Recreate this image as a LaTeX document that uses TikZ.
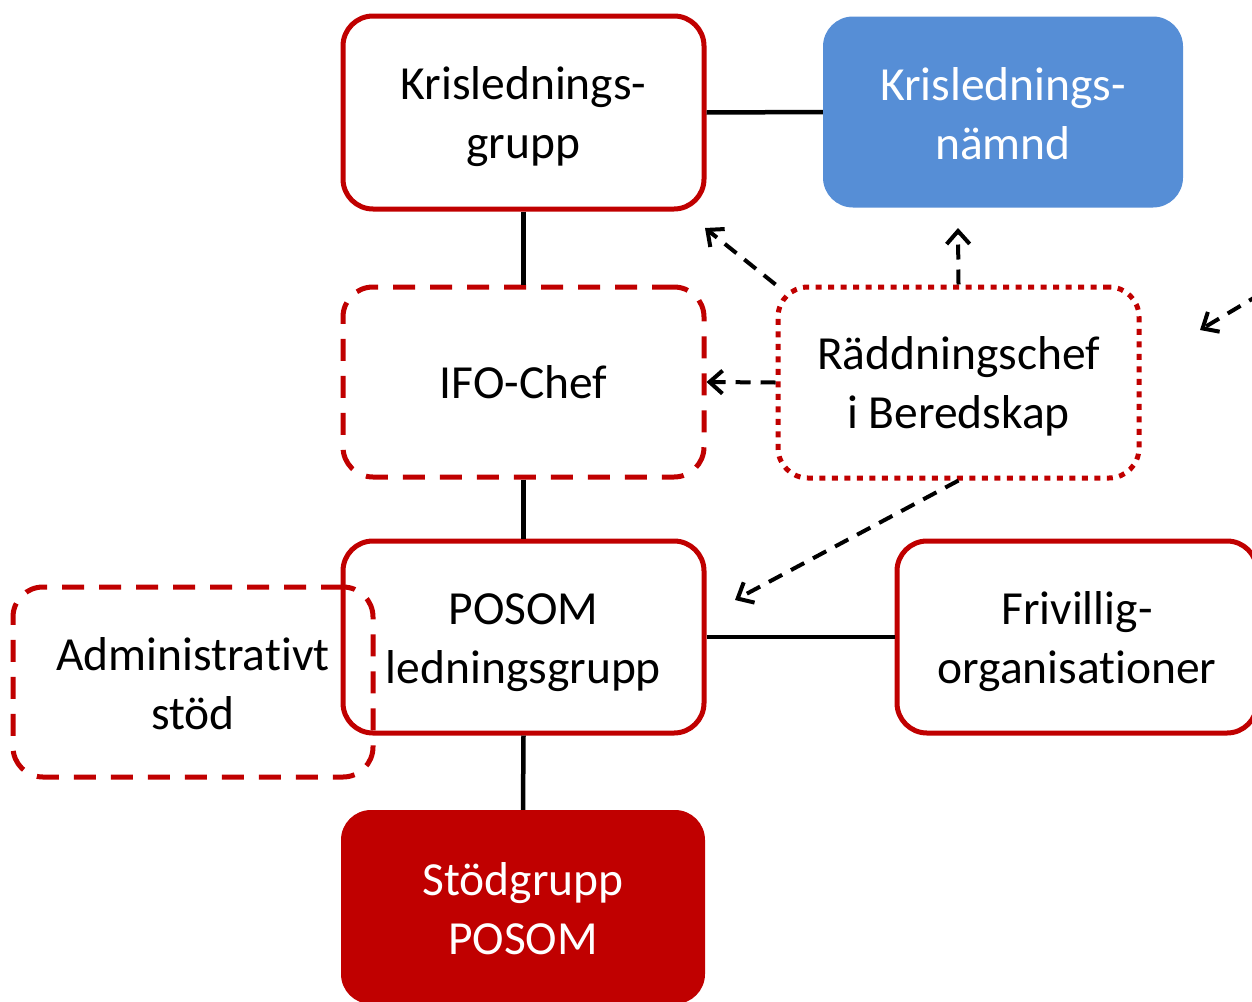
\documentclass[tikz,border=0pt]{standalone}
\usepackage{fontspec}
\setmainfont{Carlito}[Ligatures={NoCommon,NoContextual}]
\usetikzlibrary{arrows.meta}
\definecolor{kred}{RGB}{192,0,0}
\definecolor{kblue}{RGB}{86,142,214}
\begin{document}
\begin{tikzpicture}[x=1pt,y=-1pt,
  box/.style={rectangle, rounded corners=30pt, inner sep=0pt},
  txt/.style={align=center, inner sep=0pt, text=black,
     font=\fontsize{47.5}{59}\selectfont},
  wtxt/.style={txt, text=white},
  solidbox/.style={box, draw=kred, line width=5pt},
  dashbox/.style={box, draw=kred, line width=5pt, dash pattern=on 22pt off 15pt},
  dotbox/.style={box, draw=kred, line width=5pt, dash pattern=on 6pt off 6.5pt},
  link/.style={line width=4.5pt, black},
  dasharrow/.style={line width=4pt, black, dash pattern=on 15pt off 10pt,
     -{Straight Barb[length=13pt,width=23pt,line width=4pt]}}
]
\useasboundingbox (0,0) rectangle (1252,1001);
\clip (0,0) rectangle (1252,1001);
\node[solidbox, minimum width=361pt, minimum height=193pt,
  label={[txt, name=kgt, yshift=-4pt]center:{Krislednings-\\grupp}}] (kg) at (523.5,112.5) {};
\node[box, fill=kblue, minimum width=360pt, minimum height=191pt,
  label={[wtxt, name=knt, yshift=-2pt]center:{Krislednings-\\nämnd}}] (kn) at (1003,112) {};
\node[dashbox, minimum width=361pt, minimum height=190pt,
  label={[txt, name=ifot]center:{IFO-Chef}}] (ifo) at (523.5,382) {};
\node[dotbox, minimum width=361pt, minimum height=191pt,
  label={[txt, name=rct, yshift=-4pt]center:{Räddningschef\\i Beredskap}}] (rc) at (958.5,382.5) {};
\node[solidbox, minimum width=361pt, minimum height=192pt,
  label={[txt, name=plt, yshift=-5.5pt]center:{POSOM\\ledningsgrupp}}] (pl) at (523.5,637) {};
\node[dashbox, minimum width=360pt, minimum height=190pt,
  label={[txt, name=ast, yshift=-2pt]center:{Administrativt\\stöd}}] (as) at (193,682) {};
\node[solidbox, minimum width=360pt, minimum height=192pt,
  label={[txt, name=fot, yshift=-5pt]center:{Frivillig-\\organisationer}}] (fo) at (1077,637) {};
\node[box, fill=kred, minimum width=364pt, minimum height=194pt,
  label={[wtxt, name=sgt, yshift=-2pt]center:{Stödgrupp\\POSOM}}] (sg) at (523,907) {};

\draw[link] (kg.east) -- (kn.west);
\draw[link] (kg.south) -- (ifo.north);
\draw[link] (ifo.south) -- (pl.north);
\draw[link] (pl.south) -- (sg.north);
\draw[link] (pl.east) -- (fo.west);

\coordinate (a1) at (705,228);
\coordinate (a2) at (958,228);
\coordinate (a3) at (735,600);
\coordinate (o1) at (1262,293);
\coordinate (o2) at (1200,330);
\draw[dasharrow] (rc.north west) -- (a1);
\draw[dasharrow] (rc.north) -- (a2);
\draw[dasharrow] (rc.west) -- (ifo.east);
\draw[dasharrow] (rc.south) -- (a3);
\draw[dasharrow] (o1) -- (o2);
\end{tikzpicture}
\end{document}
